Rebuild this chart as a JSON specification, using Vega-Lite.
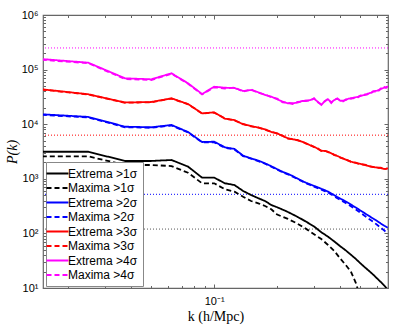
{
  "$schema": "https://vega.github.io/schema/vega-lite/v6.json",
  "width": 345,
  "height": 273,
  "autosize": {"type": "none"},
  "padding": {"left": 43, "top": 15, "right": 7, "bottom": 38},
  "background": "white",
  "config": {
    "view": {"stroke": "#666", "strokeWidth": 1.2},
    "axis": {"grid": false, "domain": false, "tickColor": "#666", "tickWidth": 1, "labelFont": "Liberation Sans", "labelFontSize": 11, "labelColor": "black", "titleColor": "black", "titleFontWeight": "normal"}
  },
  "datasets": {
    "levels": [
      {"P": 249000, "c": "#ff00ff"},
      {"P": 6300, "c": "#ff0000"},
      {"P": 520, "c": "#0000ff"},
      {"P": 120, "c": "#555555"}
    ],
    "curves": [
      {"k":0.015,"P":3130,"s":"Extrema >1σ"},{"k":0.025,"P":3130,"s":"Extrema >1σ"},{"k":0.0375,"P":2120,"s":"Extrema >1σ"},{"k":0.05,"P":2120,"s":"Extrema >1σ"},{"k":0.0625,"P":2210,"s":"Extrema >1σ"},{"k":0.075,"P":1670,"s":"Extrema >1σ"},{"k":0.0875,"P":1050,"s":"Extrema >1σ"},{"k":0.1,"P":1050,"s":"Extrema >1σ"},{"k":0.1125,"P":828,"s":"Extrema >1σ"},{"k":0.125,"P":769,"s":"Extrema >1σ"},{"k":0.1375,"P":598,"s":"Extrema >1σ"},{"k":0.15,"P":505,"s":"Extrema >1σ"},{"k":0.1625,"P":440,"s":"Extrema >1σ"},{"k":0.175,"P":392,"s":"Extrema >1σ"},{"k":0.1875,"P":331,"s":"Extrema >1σ"},{"k":0.2,"P":301,"s":"Extrema >1σ"},{"k":0.225,"P":247,"s":"Extrema >1σ"},{"k":0.25,"P":201,"s":"Extrema >1σ"},{"k":0.275,"P":164,"s":"Extrema >1σ"},{"k":0.3,"P":134,"s":"Extrema >1σ"},{"k":0.325,"P":105,"s":"Extrema >1σ"},{"k":0.35,"P":87.1,"s":"Extrema >1σ"},{"k":0.375,"P":71.1,"s":"Extrema >1σ"},{"k":0.4,"P":58.3,"s":"Extrema >1σ"},{"k":0.425,"P":48.9,"s":"Extrema >1σ"},{"k":0.45,"P":40.7,"s":"Extrema >1σ"},{"k":0.475,"P":34.1,"s":"Extrema >1σ"},{"k":0.5,"P":28.3,"s":"Extrema >1σ"},{"k":0.525,"P":23.9,"s":"Extrema >1σ"},{"k":0.55,"P":20.5,"s":"Extrema >1σ"},{"k":0.575,"P":17.6,"s":"Extrema >1σ"},{"k":0.6,"P":15.0,"s":"Extrema >1σ"},{"k":0.625,"P":12.9,"s":"Extrema >1σ"},{"k":0.65,"P":11.1,"s":"Extrema >1σ"},{"k":0.675,"P":9.2,"s":"Extrema >1σ"},

      {"k":0.015,"P":2580,"s":"Maxima >1σ"},{"k":0.025,"P":2580,"s":"Maxima >1σ"},{"k":0.0375,"P":1790,"s":"Maxima >1σ"},{"k":0.05,"P":1790,"s":"Maxima >1σ"},{"k":0.0625,"P":1710,"s":"Maxima >1σ"},{"k":0.075,"P":1290,"s":"Maxima >1σ"},{"k":0.0875,"P":828,"s":"Maxima >1σ"},{"k":0.1,"P":828,"s":"Maxima >1σ"},{"k":0.1125,"P":643,"s":"Maxima >1σ"},{"k":0.125,"P":581,"s":"Maxima >1σ"},{"k":0.1375,"P":470,"s":"Maxima >1σ"},{"k":0.15,"P":392,"s":"Maxima >1σ"},{"k":0.1625,"P":356,"s":"Maxima >1σ"},{"k":0.175,"P":318,"s":"Maxima >1σ"},{"k":0.1875,"P":276,"s":"Maxima >1σ"},{"k":0.2,"P":221,"s":"Maxima >1σ"},{"k":0.225,"P":184,"s":"Maxima >1σ"},{"k":0.25,"P":151,"s":"Maxima >1σ"},{"k":0.275,"P":121,"s":"Maxima >1σ"},{"k":0.3,"P":96.6,"s":"Maxima >1σ"},{"k":0.325,"P":78.9,"s":"Maxima >1σ"},{"k":0.35,"P":61.4,"s":"Maxima >1σ"},{"k":0.375,"P":47.6,"s":"Maxima >1σ"},{"k":0.4,"P":34.7,"s":"Maxima >1σ"},{"k":0.425,"P":26.4,"s":"Maxima >1σ"},{"k":0.45,"P":20.0,"s":"Maxima >1σ"},{"k":0.475,"P":12.4,"s":"Maxima >1σ"},{"k":0.5,"P":6.6,"s":"Maxima >1σ"},

      {"k":0.015,"P":15200,"s":"Extrema >2σ"},{"k":0.025,"P":13600,"s":"Extrema >2σ"},{"k":0.0375,"P":9000,"s":"Extrema >2σ"},{"k":0.05,"P":8780,"s":"Extrema >2σ"},{"k":0.0625,"P":9670,"s":"Extrema >2σ"},{"k":0.075,"P":7200,"s":"Extrema >2σ"},{"k":0.0875,"P":4720,"s":"Extrema >2σ"},{"k":0.1,"P":4780,"s":"Extrema >2σ"},{"k":0.1125,"P":3780,"s":"Extrema >2σ"},{"k":0.125,"P":3520,"s":"Extrema >2σ"},{"k":0.1375,"P":2650,"s":"Extrema >2σ"},{"k":0.15,"P":2370,"s":"Extrema >2σ"},{"k":0.1625,"P":2150,"s":"Extrema >2σ"},{"k":0.175,"P":1920,"s":"Extrema >2σ"},{"k":0.1875,"P":1700,"s":"Extrema >2σ"},{"k":0.2,"P":1500,"s":"Extrema >2σ"},{"k":0.2125,"P":1340,"s":"Extrema >2σ"},{"k":0.225,"P":1230,"s":"Extrema >2σ"},{"k":0.2375,"P":1120,"s":"Extrema >2σ"},{"k":0.25,"P":1010,"s":"Extrema >2σ"},{"k":0.2625,"P":920,"s":"Extrema >2σ"},{"k":0.275,"P":845,"s":"Extrema >2σ"},{"k":0.2875,"P":790,"s":"Extrema >2σ"},{"k":0.3,"P":741,"s":"Extrema >2σ"},{"k":0.3125,"P":700,"s":"Extrema >2σ"},{"k":0.325,"P":656,"s":"Extrema >2σ"},{"k":0.3375,"P":620,"s":"Extrema >2σ"},{"k":0.35,"P":581,"s":"Extrema >2σ"},{"k":0.3625,"P":540,"s":"Extrema >2σ"},{"k":0.375,"P":499,"s":"Extrema >2σ"},{"k":0.3875,"P":465,"s":"Extrema >2σ"},{"k":0.4,"P":436,"s":"Extrema >2σ"},{"k":0.425,"P":384,"s":"Extrema >2σ"},{"k":0.45,"P":338,"s":"Extrema >2σ"},{"k":0.475,"P":298,"s":"Extrema >2σ"},{"k":0.5,"P":262,"s":"Extrema >2σ"},{"k":0.525,"P":233,"s":"Extrema >2σ"},{"k":0.55,"P":208,"s":"Extrema >2σ"},{"k":0.575,"P":187,"s":"Extrema >2σ"},{"k":0.6,"P":169,"s":"Extrema >2σ"},{"k":0.625,"P":152,"s":"Extrema >2σ"},{"k":0.65,"P":138,"s":"Extrema >2σ"},{"k":0.675,"P":127,"s":"Extrema >2σ"},

      {"k":0.015,"P":14800,"s":"Maxima >2σ"},{"k":0.025,"P":13300,"s":"Maxima >2σ"},{"k":0.0375,"P":8800,"s":"Maxima >2σ"},{"k":0.05,"P":8600,"s":"Maxima >2σ"},{"k":0.0625,"P":9450,"s":"Maxima >2σ"},{"k":0.075,"P":7050,"s":"Maxima >2σ"},{"k":0.0875,"P":4650,"s":"Maxima >2σ"},{"k":0.1,"P":4650,"s":"Maxima >2σ"},{"k":0.1125,"P":3700,"s":"Maxima >2σ"},{"k":0.125,"P":3450,"s":"Maxima >2σ"},{"k":0.1375,"P":2600,"s":"Maxima >2σ"},{"k":0.15,"P":2330,"s":"Maxima >2σ"},{"k":0.1625,"P":2100,"s":"Maxima >2σ"},{"k":0.175,"P":1890,"s":"Maxima >2σ"},{"k":0.1875,"P":1660,"s":"Maxima >2σ"},{"k":0.2,"P":1470,"s":"Maxima >2σ"},{"k":0.2125,"P":1310,"s":"Maxima >2σ"},{"k":0.225,"P":1210,"s":"Maxima >2σ"},{"k":0.2375,"P":1090,"s":"Maxima >2σ"},{"k":0.25,"P":990,"s":"Maxima >2σ"},{"k":0.2625,"P":900,"s":"Maxima >2σ"},{"k":0.275,"P":830,"s":"Maxima >2σ"},{"k":0.2875,"P":770,"s":"Maxima >2σ"},{"k":0.3,"P":720,"s":"Maxima >2σ"},{"k":0.3125,"P":675,"s":"Maxima >2σ"},{"k":0.325,"P":635,"s":"Maxima >2σ"},{"k":0.3375,"P":595,"s":"Maxima >2σ"},{"k":0.35,"P":560,"s":"Maxima >2σ"},{"k":0.3625,"P":518,"s":"Maxima >2σ"},{"k":0.375,"P":476,"s":"Maxima >2σ"},{"k":0.3875,"P":440,"s":"Maxima >2σ"},{"k":0.4,"P":412,"s":"Maxima >2σ"},{"k":0.425,"P":360,"s":"Maxima >2σ"},{"k":0.45,"P":313,"s":"Maxima >2σ"},{"k":0.475,"P":274,"s":"Maxima >2σ"},{"k":0.5,"P":238,"s":"Maxima >2σ"},{"k":0.525,"P":209,"s":"Maxima >2σ"},{"k":0.55,"P":183,"s":"Maxima >2σ"},{"k":0.575,"P":163,"s":"Maxima >2σ"},{"k":0.6,"P":144,"s":"Maxima >2σ"},{"k":0.625,"P":127,"s":"Maxima >2σ"},{"k":0.65,"P":113,"s":"Maxima >2σ"},{"k":0.675,"P":100,"s":"Maxima >2σ"},

      {"k":0.015,"P":43600,"s":"Extrema >3σ"},{"k":0.025,"P":35400,"s":"Extrema >3σ"},{"k":0.0375,"P":25000,"s":"Extrema >3σ"},{"k":0.05,"P":25500,"s":"Extrema >3σ"},{"k":0.0625,"P":29800,"s":"Extrema >3σ"},{"k":0.075,"P":23400,"s":"Extrema >3σ"},{"k":0.0875,"P":15800,"s":"Extrema >3σ"},{"k":0.1,"P":16500,"s":"Extrema >3σ"},{"k":0.1125,"P":12600,"s":"Extrema >3σ"},{"k":0.125,"P":11900,"s":"Extrema >3σ"},{"k":0.1375,"P":9960,"s":"Extrema >3σ"},{"k":0.15,"P":9270,"s":"Extrema >3σ"},{"k":0.1625,"P":8630,"s":"Extrema >3σ"},{"k":0.175,"P":8070,"s":"Extrema >3σ"},{"k":0.1875,"P":7200,"s":"Extrema >3σ"},{"k":0.2,"P":6810,"s":"Extrema >3σ"},{"k":0.2125,"P":6080,"s":"Extrema >3σ"},{"k":0.225,"P":5520,"s":"Extrema >3σ"},{"k":0.2375,"P":5290,"s":"Extrema >3σ"},{"k":0.25,"P":5140,"s":"Extrema >3σ"},{"k":0.2625,"P":4780,"s":"Extrema >3σ"},{"k":0.275,"P":4470,"s":"Extrema >3σ"},{"k":0.2875,"P":4110,"s":"Extrema >3σ"},{"k":0.3,"P":3870,"s":"Extrema >3σ"},{"k":0.3125,"P":3560,"s":"Extrema >3σ"},{"k":0.325,"P":3270,"s":"Extrema >3σ"},{"k":0.3375,"P":3230,"s":"Extrema >3σ"},{"k":0.35,"P":3130,"s":"Extrema >3σ"},{"k":0.3625,"P":2930,"s":"Extrema >3σ"},{"k":0.375,"P":2760,"s":"Extrema >3σ"},{"k":0.3875,"P":2620,"s":"Extrema >3σ"},{"k":0.4,"P":2480,"s":"Extrema >3σ"},{"k":0.425,"P":2250,"s":"Extrema >3σ"},{"k":0.45,"P":2070,"s":"Extrema >3σ"},{"k":0.475,"P":1950,"s":"Extrema >3σ"},{"k":0.5,"P":1870,"s":"Extrema >3σ"},{"k":0.525,"P":1790,"s":"Extrema >3σ"},{"k":0.55,"P":1710,"s":"Extrema >3σ"},{"k":0.575,"P":1640,"s":"Extrema >3σ"},{"k":0.6,"P":1610,"s":"Extrema >3σ"},{"k":0.625,"P":1580,"s":"Extrema >3σ"},{"k":0.65,"P":1510,"s":"Extrema >3σ"},{"k":0.675,"P":1550,"s":"Extrema >3σ"},

      {"k":0.015,"P":43000,"s":"Maxima >3σ"},{"k":0.025,"P":35000,"s":"Maxima >3σ"},{"k":0.0375,"P":24700,"s":"Maxima >3σ"},{"k":0.05,"P":25200,"s":"Maxima >3σ"},{"k":0.0625,"P":29500,"s":"Maxima >3σ"},{"k":0.075,"P":23100,"s":"Maxima >3σ"},{"k":0.0875,"P":15700,"s":"Maxima >3σ"},{"k":0.1,"P":16300,"s":"Maxima >3σ"},{"k":0.1125,"P":12800,"s":"Maxima >3σ"},{"k":0.125,"P":11700,"s":"Maxima >3σ"},{"k":0.1375,"P":10100,"s":"Maxima >3σ"},{"k":0.15,"P":9100,"s":"Maxima >3σ"},{"k":0.1625,"P":8750,"s":"Maxima >3σ"},{"k":0.175,"P":7920,"s":"Maxima >3σ"},{"k":0.1875,"P":7300,"s":"Maxima >3σ"},{"k":0.2,"P":6700,"s":"Maxima >3σ"},{"k":0.2125,"P":6150,"s":"Maxima >3σ"},{"k":0.225,"P":5430,"s":"Maxima >3σ"},{"k":0.2375,"P":5350,"s":"Maxima >3σ"},{"k":0.25,"P":5060,"s":"Maxima >3σ"},{"k":0.2625,"P":4840,"s":"Maxima >3σ"},{"k":0.275,"P":4400,"s":"Maxima >3σ"},{"k":0.2875,"P":4160,"s":"Maxima >3σ"},{"k":0.3,"P":3810,"s":"Maxima >3σ"},{"k":0.3125,"P":3600,"s":"Maxima >3σ"},{"k":0.325,"P":3220,"s":"Maxima >3σ"},{"k":0.3375,"P":3270,"s":"Maxima >3σ"},{"k":0.35,"P":3080,"s":"Maxima >3σ"},{"k":0.3625,"P":2960,"s":"Maxima >3σ"},{"k":0.375,"P":2720,"s":"Maxima >3σ"},{"k":0.3875,"P":2650,"s":"Maxima >3σ"},{"k":0.4,"P":2440,"s":"Maxima >3σ"},{"k":0.425,"P":2270,"s":"Maxima >3σ"},{"k":0.45,"P":2040,"s":"Maxima >3σ"},{"k":0.475,"P":1970,"s":"Maxima >3σ"},{"k":0.5,"P":1840,"s":"Maxima >3σ"},{"k":0.525,"P":1810,"s":"Maxima >3σ"},{"k":0.55,"P":1690,"s":"Maxima >3σ"},{"k":0.575,"P":1650,"s":"Maxima >3σ"},{"k":0.6,"P":1590,"s":"Maxima >3σ"},{"k":0.625,"P":1600,"s":"Maxima >3σ"},{"k":0.65,"P":1490,"s":"Maxima >3σ"},{"k":0.675,"P":1560,"s":"Maxima >3σ"},

      {"k":0.015,"P":156000,"s":"Extrema >4σ"},{"k":0.025,"P":134000,"s":"Extrema >4σ"},{"k":0.0375,"P":69300,"s":"Extrema >4σ"},{"k":0.05,"P":66400,"s":"Extrema >4σ"},{"k":0.0625,"P":85600,"s":"Extrema >4σ"},{"k":0.075,"P":56100,"s":"Extrema >4σ"},{"k":0.0875,"P":35700,"s":"Extrema >4σ"},{"k":0.1,"P":48600,"s":"Extrema >4σ"},{"k":0.1125,"P":46600,"s":"Extrema >4σ"},{"k":0.125,"P":46000,"s":"Extrema >4σ"},{"k":0.1375,"P":40600,"s":"Extrema >4σ"},{"k":0.15,"P":42300,"s":"Extrema >4σ"},{"k":0.1625,"P":38400,"s":"Extrema >4σ"},{"k":0.175,"P":34300,"s":"Extrema >4σ"},{"k":0.1875,"P":31900,"s":"Extrema >4σ"},{"k":0.2,"P":28600,"s":"Extrema >4σ"},{"k":0.2125,"P":25800,"s":"Extrema >4σ"},{"k":0.225,"P":24200,"s":"Extrema >4σ"},{"k":0.2375,"P":24200,"s":"Extrema >4σ"},{"k":0.25,"P":24800,"s":"Extrema >4σ"},{"k":0.2625,"P":26600,"s":"Extrema >4σ"},{"k":0.275,"P":26600,"s":"Extrema >4σ"},{"k":0.2875,"P":27700,"s":"Extrema >4σ"},{"k":0.3,"P":29300,"s":"Extrema >4σ"},{"k":0.3125,"P":25800,"s":"Extrema >4σ"},{"k":0.325,"P":22500,"s":"Extrema >4σ"},{"k":0.3375,"P":26600,"s":"Extrema >4σ"},{"k":0.35,"P":28600,"s":"Extrema >4σ"},{"k":0.3625,"P":25200,"s":"Extrema >4σ"},{"k":0.375,"P":27700,"s":"Extrema >4σ"},{"k":0.3875,"P":29800,"s":"Extrema >4σ"},{"k":0.4,"P":26900,"s":"Extrema >4σ"},{"k":0.4125,"P":26900,"s":"Extrema >4σ"},{"k":0.425,"P":27700,"s":"Extrema >4σ"},{"k":0.4375,"P":29300,"s":"Extrema >4σ"},{"k":0.45,"P":29300,"s":"Extrema >4σ"},{"k":0.4625,"P":30600,"s":"Extrema >4σ"},{"k":0.475,"P":31100,"s":"Extrema >4σ"},{"k":0.4875,"P":31900,"s":"Extrema >4σ"},{"k":0.5,"P":32800,"s":"Extrema >4σ"},{"k":0.5125,"P":33800,"s":"Extrema >4σ"},{"k":0.525,"P":34300,"s":"Extrema >4σ"},{"k":0.5375,"P":35700,"s":"Extrema >4σ"},{"k":0.55,"P":36800,"s":"Extrema >4σ"},{"k":0.5625,"P":37800,"s":"Extrema >4σ"},{"k":0.575,"P":39400,"s":"Extrema >4σ"},{"k":0.5875,"P":40600,"s":"Extrema >4σ"},{"k":0.6,"P":41100,"s":"Extrema >4σ"},{"k":0.6125,"P":42300,"s":"Extrema >4σ"},{"k":0.625,"P":44100,"s":"Extrema >4σ"},{"k":0.6375,"P":45500,"s":"Extrema >4σ"},{"k":0.65,"P":46600,"s":"Extrema >4σ"},{"k":0.6625,"P":47400,"s":"Extrema >4σ"},{"k":0.675,"P":48600,"s":"Extrema >4σ"},

      {"k":0.015,"P":151000,"s":"Maxima >4σ"},{"k":0.025,"P":131000,"s":"Maxima >4σ"},{"k":0.0375,"P":67000,"s":"Maxima >4σ"},{"k":0.05,"P":64500,"s":"Maxima >4σ"},{"k":0.0625,"P":84000,"s":"Maxima >4σ"},{"k":0.075,"P":55000,"s":"Maxima >4σ"},{"k":0.0875,"P":35000,"s":"Maxima >4σ"},{"k":0.1,"P":47500,"s":"Maxima >4σ"},{"k":0.1125,"P":45000,"s":"Maxima >4σ"},{"k":0.125,"P":47000,"s":"Maxima >4σ"},{"k":0.1375,"P":39500,"s":"Maxima >4σ"},{"k":0.15,"P":43500,"s":"Maxima >4σ"},{"k":0.1625,"P":37500,"s":"Maxima >4σ"},{"k":0.175,"P":35200,"s":"Maxima >4σ"},{"k":0.1875,"P":31000,"s":"Maxima >4σ"},{"k":0.2,"P":29300,"s":"Maxima >4σ"},{"k":0.2125,"P":25000,"s":"Maxima >4σ"},{"k":0.225,"P":24800,"s":"Maxima >4σ"},{"k":0.2375,"P":23500,"s":"Maxima >4σ"},{"k":0.25,"P":25500,"s":"Maxima >4σ"},{"k":0.2625,"P":26000,"s":"Maxima >4σ"},{"k":0.275,"P":27300,"s":"Maxima >4σ"},{"k":0.2875,"P":27000,"s":"Maxima >4σ"},{"k":0.3,"P":30000,"s":"Maxima >4σ"},{"k":0.3125,"P":25200,"s":"Maxima >4σ"},{"k":0.325,"P":23200,"s":"Maxima >4σ"},{"k":0.3375,"P":26000,"s":"Maxima >4σ"},{"k":0.35,"P":29300,"s":"Maxima >4σ"},{"k":0.3625,"P":24500,"s":"Maxima >4σ"},{"k":0.375,"P":28400,"s":"Maxima >4σ"},{"k":0.3875,"P":29000,"s":"Maxima >4σ"},{"k":0.4,"P":27600,"s":"Maxima >4σ"},{"k":0.4125,"P":26200,"s":"Maxima >4σ"},{"k":0.425,"P":28400,"s":"Maxima >4σ"},{"k":0.4375,"P":28600,"s":"Maxima >4σ"},{"k":0.45,"P":30000,"s":"Maxima >4σ"},{"k":0.4625,"P":29900,"s":"Maxima >4σ"},{"k":0.475,"P":31900,"s":"Maxima >4σ"},{"k":0.4875,"P":31100,"s":"Maxima >4σ"},{"k":0.5,"P":33600,"s":"Maxima >4σ"},{"k":0.5125,"P":33000,"s":"Maxima >4σ"},{"k":0.525,"P":35200,"s":"Maxima >4σ"},{"k":0.5375,"P":34900,"s":"Maxima >4σ"},{"k":0.55,"P":37700,"s":"Maxima >4σ"},{"k":0.5625,"P":36900,"s":"Maxima >4σ"},{"k":0.575,"P":40300,"s":"Maxima >4σ"},{"k":0.5875,"P":39600,"s":"Maxima >4σ"},{"k":0.6,"P":42100,"s":"Maxima >4σ"},{"k":0.6125,"P":41300,"s":"Maxima >4σ"},{"k":0.625,"P":45200,"s":"Maxima >4σ"},{"k":0.6375,"P":44400,"s":"Maxima >4σ"},{"k":0.65,"P":47700,"s":"Maxima >4σ"},{"k":0.6625,"P":46300,"s":"Maxima >4σ"},{"k":0.675,"P":49800,"s":"Maxima >4σ"}
    ]
  },
  "layer": [
    {
      "data": {"name": "levels"},
      "mark": {"type": "rule", "strokeWidth": 1, "strokeDash": [1, 2]},
      "encoding": {
        "y": {"field": "P", "type": "quantitative", "scale": {"type": "log", "domain": [10, 1000000]},
          "axis": {"orient": "right", "title": null, "labels": false,
            "values": [10,20,30,40,50,60,70,80,90,100,200,300,400,500,600,700,800,900,1000,2000,3000,4000,5000,6000,7000,8000,9000,10000,20000,30000,40000,50000,60000,70000,80000,90000,100000,200000,300000,400000,500000,600000,700000,800000,900000,1000000],
            "tickSize": {"condition": {"test": "indexof([10,100,1000,10000,100000,1000000], datum.value) >= 0", "value": -4}, "value": -2.5}}},
        "color": {"field": "c", "type": "nominal", "scale": null}
      }
    },
    {
      "data": {"name": "curves"},
      "mark": {"type": "line", "strokeWidth": 1.8, "clip": true},
      "encoding": {
        "x": {"field": "k", "type": "quantitative", "scale": {"type": "log", "domain": [0.0152, 0.677]},
          "axis": {"orient": "bottom", "title": "k (h/Mpc)", "titleFont": "Liberation Serif", "titleFontSize": 14, "titlePadding": 3,
            "values": [0.02,0.03,0.04,0.05,0.06,0.07,0.08,0.09,0.1,0.2,0.3,0.4,0.5,0.6],
            "labelExpr": "datum.value == 0.1 ? '10⁻¹' : ''", "labelPadding": 11,
            "tickSize": {"condition": {"test": "datum.value == 0.1", "value": -4}, "value": -2.5}}},
        "y": {"field": "P", "type": "quantitative", "scale": {"type": "log", "domain": [10, 1000000]},
          "axis": {"orient": "left", "title": "P(k)", "titleFont": "Liberation Serif", "titleFontStyle": "italic", "titleFontSize": 14, "titlePadding": 2,
            "values": [10,20,30,40,50,60,70,80,90,100,200,300,400,500,600,700,800,900,1000,2000,3000,4000,5000,6000,7000,8000,9000,10000,20000,30000,40000,50000,60000,70000,80000,90000,100000,200000,300000,400000,500000,600000,700000,800000,900000,1000000],
            "labelExpr": "datum.value == 10 ? '10¹' : datum.value == 100 ? '10²' : datum.value == 1000 ? '10³' : datum.value == 10000 ? '10⁴' : datum.value == 100000 ? '10⁵' : datum.value == 1000000 ? '10⁶' : ''",
            "labelPadding": 9,
            "tickSize": {"condition": {"test": "indexof([10,100,1000,10000,100000,1000000], datum.value) >= 0", "value": -4}, "value": -2.5}}},
        "color": {"field": "s", "type": "nominal",
          "scale": {"domain": ["Extrema >1σ","Maxima >1σ","Extrema >2σ","Maxima >2σ","Extrema >3σ","Maxima >3σ","Extrema >4σ","Maxima >4σ"],
                    "range": ["#000000","#000000","#0000ff","#0000ff","#ff0000","#ff0000","#ff00ff","#ff00ff"]},
          "legend": {"orient": "none", "legendX": 3, "legendY": 147, "title": null, "symbolType": "M-2,0H2", "symbolSize": 121, "symbolStrokeWidth": 2, "labelFont": "Liberation Sans", "labelFontSize": 12, "labelColor": "black", "strokeColor": "#888", "fillColor": "white", "padding": 5, "rowPadding": 1.5, "labelOffset": 4}},
        "strokeDash": {"field": "s", "type": "nominal",
          "scale": {"domain": ["Extrema >1σ","Maxima >1σ","Extrema >2σ","Maxima >2σ","Extrema >3σ","Maxima >3σ","Extrema >4σ","Maxima >4σ"],
                    "range": [[1,0],[5,3],[1,0],[5,3],[1,0],[5,3],[1,0],[5,3]]},
          "legend": {"orient": "none", "legendX": 3, "legendY": 147, "title": null, "symbolType": "M-2,0H2", "symbolSize": 121, "symbolStrokeWidth": 2, "labelFont": "Liberation Sans", "labelFontSize": 12, "labelColor": "black", "strokeColor": "#888", "fillColor": "white", "padding": 5, "rowPadding": 1.5, "labelOffset": 4}}
      }
    },
    {
      "data": {"name": "curves"},
      "mark": {"type": "point", "opacity": 0},
      "encoding": {
        "x": {"field": "k", "type": "quantitative", "scale": {"type": "log", "domain": [0.0152, 0.677]},
          "axis": {"orient": "top", "title": null, "labels": false,
            "values": [0.02,0.03,0.04,0.05,0.06,0.07,0.08,0.09,0.1,0.2,0.3,0.4,0.5,0.6],
            "tickSize": {"condition": {"test": "datum.value == 0.1", "value": -4}, "value": -2.5}}},
        "y": {"field": "P", "type": "quantitative", "scale": {"type": "log", "domain": [10, 1000000]}, "axis": null}
      }
    }
  ],
  "resolve": {"axis": {"x": "independent", "y": "independent"}}
}
